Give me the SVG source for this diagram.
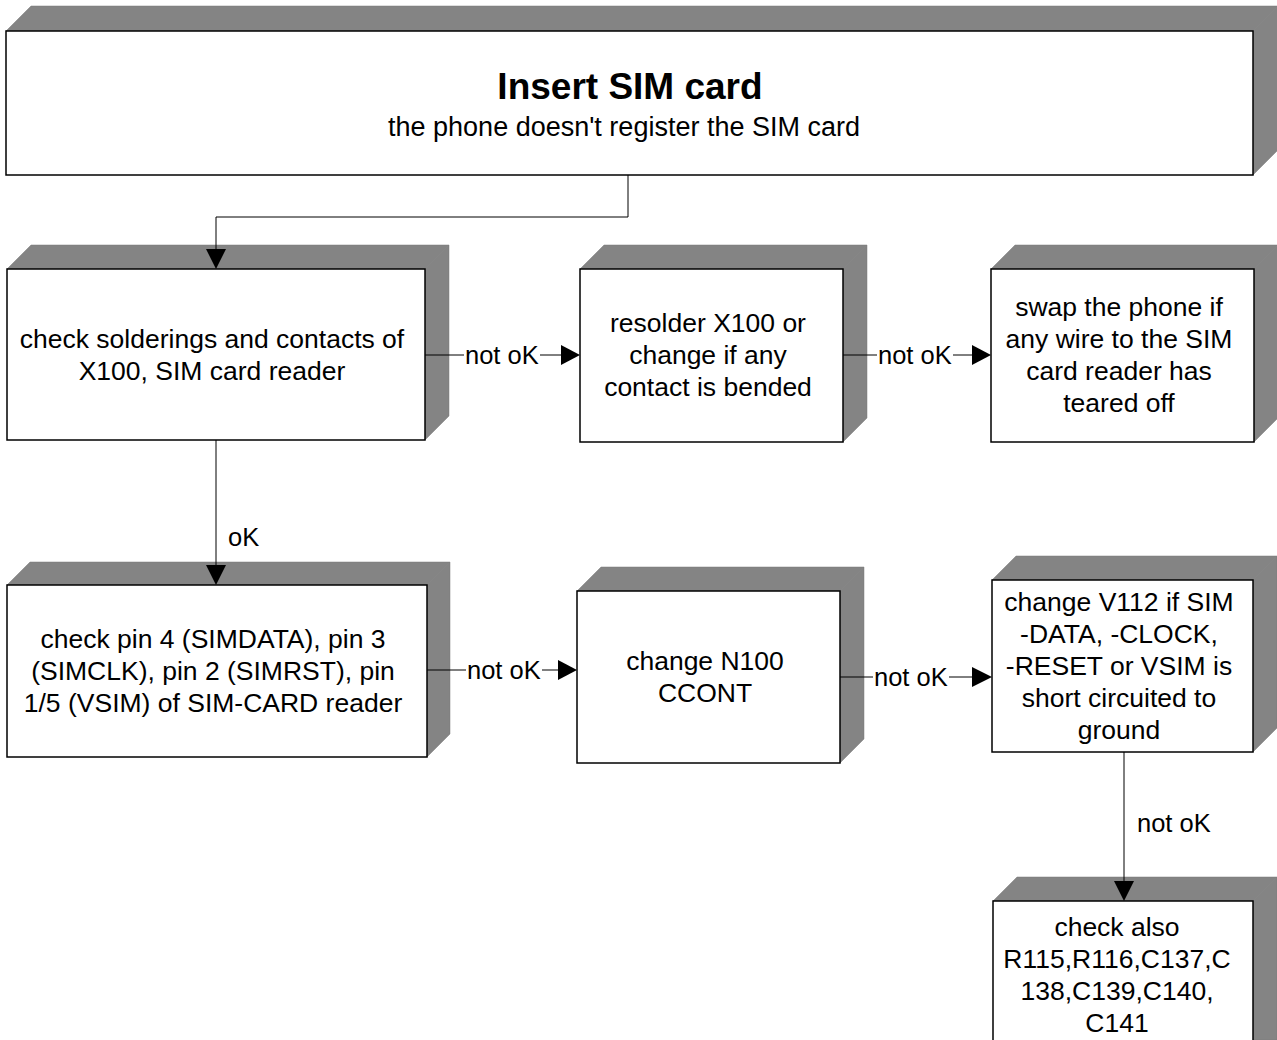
<svg xmlns="http://www.w3.org/2000/svg" width="1277" height="1040" viewBox="0 0 1277 1040">
<style>
  .depth { fill: #848484; stroke: #7a7a7a; stroke-width: 0.5; }
  .front { fill: #ffffff; stroke: #000000; stroke-width: 1.5; }
  .t { font-family: "Liberation Sans", Arial, sans-serif; font-size: 26.5px; fill: #000; text-anchor: middle; }
  .sub { font-family: "Liberation Sans", Arial, sans-serif; font-size: 27px; fill: #000; text-anchor: middle; }
  .title { font-family: "Liberation Sans", Arial, sans-serif; font-size: 37px; font-weight: bold; fill: #000; text-anchor: middle; }
  .lbl { font-family: "Liberation Sans", Arial, sans-serif; font-size: 25.5px; fill: #000; }
  .ln { fill: none; stroke: #000; stroke-width: 1; }
  .ah { fill: #000; }
</style>
<rect width="1277" height="1040" fill="#ffffff"/>

<g id="node-top">
  <polygon class="depth" points="6,31 31,6 1278,6 1253,31"/>
  <polygon class="depth" points="1253,31 1278,6 1278,150 1253,175"/>
  <rect class="front" x="6" y="31" width="1247" height="144"/>
  <text class="title" x="630" y="99">Insert SIM card</text>
  <text class="sub" x="624" y="136">the phone doesn't register the SIM card</text>
</g>

<g id="node-solder">
  <polygon class="depth" points="7,269 31,245 449,245 425,269"/>
  <polygon class="depth" points="425,269 449,245 449,416 425,440"/>
  <rect class="front" x="7" y="269" width="418" height="171"/>
  <text class="t" x="212" y="348">check solderings and contacts of</text>
  <text class="t" x="212" y="380">X100, SIM card reader</text>
</g>

<g id="node-resolder">
  <polygon class="depth" points="580,269 604,245 867,245 843,269"/>
  <polygon class="depth" points="843,269 867,245 867,418 843,442"/>
  <rect class="front" x="580" y="269" width="263" height="173"/>
  <text class="t" x="708" y="332">resolder X100 or</text>
  <text class="t" x="708" y="364">change if any</text>
  <text class="t" x="708" y="396">contact is bended</text>
</g>

<g id="node-swap">
  <polygon class="depth" points="991,269 1015,245 1278,245 1254,269"/>
  <polygon class="depth" points="1254,269 1278,245 1278,418 1254,442"/>
  <rect class="front" x="991" y="269" width="263" height="173"/>
  <text class="t" x="1119" y="316">swap the phone if</text>
  <text class="t" x="1119" y="348">any wire to the SIM</text>
  <text class="t" x="1119" y="380">card reader has</text>
  <text class="t" x="1119" y="412">teared off</text>
</g>

<g id="node-pins">
  <polygon class="depth" points="7,585 30,562 450,562 427,585"/>
  <polygon class="depth" points="427,585 450,562 450,734 427,757"/>
  <rect class="front" x="7" y="585" width="420" height="172"/>
  <text class="t" x="213" y="648">check pin 4 (SIMDATA), pin 3</text>
  <text class="t" x="213" y="680">(SIMCLK), pin 2 (SIMRST), pin</text>
  <text class="t" x="213" y="712">1/5 (VSIM) of SIM-CARD reader</text>
</g>

<g id="node-n100">
  <polygon class="depth" points="577,591 601,567 864,567 840,591"/>
  <polygon class="depth" points="840,591 864,567 864,739 840,763"/>
  <rect class="front" x="577" y="591" width="263" height="172"/>
  <text class="t" x="705" y="670">change N100</text>
  <text class="t" x="705" y="702">CCONT</text>
</g>

<g id="node-v112">
  <polygon class="depth" points="992,580 1016,556 1277,556 1253,580"/>
  <polygon class="depth" points="1253,580 1277,556 1277,728 1253,752"/>
  <rect class="front" x="992" y="580" width="261" height="172"/>
  <text class="t" x="1119" y="611">change V112 if SIM</text>
  <text class="t" x="1119" y="643">-DATA, -CLOCK,</text>
  <text class="t" x="1119" y="675">-RESET or VSIM is</text>
  <text class="t" x="1119" y="707">short circuited to</text>
  <text class="t" x="1119" y="739">ground</text>
</g>

<g id="node-checkalso">
  <polygon class="depth" points="993,901 1017,877 1277,877 1253,901"/>
  <polygon class="depth" points="1253,901 1277,877 1277,1040 1253,1040"/>
  <rect class="front" x="993" y="901" width="260" height="160"/>
  <text class="t" x="1117" y="936">check also</text>
  <text class="t" x="1117" y="968">R115,R116,C137,C</text>
  <text class="t" x="1117" y="1000">138,C139,C140,</text>
  <text class="t" x="1117" y="1032">C141</text>
</g>

<g id="connectors">
  <polyline class="ln" points="628,175 628,217 216,217 216,250"/>
  <polygon class="ah" points="206,249 226,249 216,269"/>

  <line class="ln" x1="216" y1="440" x2="216" y2="566"/>
  <polygon class="ah" points="206,565 226,565 216,585"/>
  <text class="lbl" x="228" y="546">oK</text>

  <line class="ln" x1="425" y1="355" x2="464" y2="355"/>
  <text class="lbl" x="465" y="364">not oK</text>
  <line class="ln" x1="540" y1="355" x2="562" y2="355"/>
  <polygon class="ah" points="561,345 561,365 580,355"/>

  <line class="ln" x1="843" y1="355" x2="877" y2="355"/>
  <text class="lbl" x="878" y="364">not oK</text>
  <line class="ln" x1="953" y1="355" x2="973" y2="355"/>
  <polygon class="ah" points="972,345 972,365 991,355"/>

  <line class="ln" x1="427" y1="670" x2="466" y2="670"/>
  <text class="lbl" x="467" y="679">not oK</text>
  <line class="ln" x1="542" y1="670" x2="559" y2="670"/>
  <polygon class="ah" points="558,660 558,680 577,670"/>

  <line class="ln" x1="840" y1="677" x2="873" y2="677"/>
  <text class="lbl" x="874" y="686">not oK</text>
  <line class="ln" x1="949" y1="677" x2="973" y2="677"/>
  <polygon class="ah" points="972,667 972,687 992,677"/>

  <line class="ln" x1="1124" y1="752" x2="1124" y2="882"/>
  <polygon class="ah" points="1114,881 1134,881 1124,901"/>
  <text class="lbl" x="1137" y="832">not oK</text>
</g>
</svg>
